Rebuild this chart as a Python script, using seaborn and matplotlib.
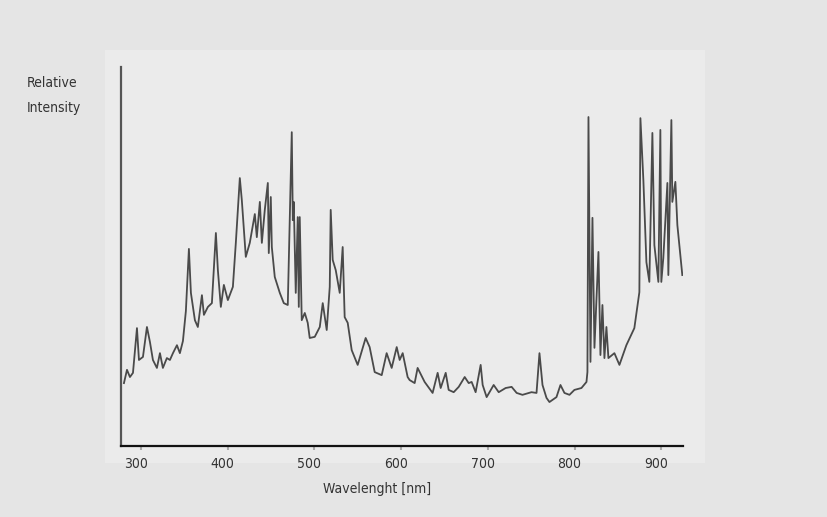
import matplotlib
matplotlib.use('Agg')
import matplotlib.pyplot as plt
import matplotlib.transforms as mtransforms
from matplotlib.patches import Rectangle
import seaborn as sns
import pandas as pd

# spectrum: wavelength [nm] and relative intensity [0-100]
wavelength = [280.4, 283.9, 287.3, 290.8, 295.4, 297.7, 302.3, 306.9, 310.4, 313.8,
              318.4, 321.9, 325.3, 329.9, 333.4, 336.9, 341.5, 344.9, 348.4, 351.8,
              355.3, 357.6, 362.2, 365.6, 370.3, 372.6, 377.2, 381.8, 386.4, 388.7,
              392.1, 395.6, 400.2, 406.0, 409.4, 414.0, 416.3, 420.9, 425.5, 431.3,
              433.6, 437.1, 439.4, 442.8, 446.3, 447.4, 449.7, 450.9, 454.3, 460.1,
              464.7, 469.3, 473.9, 475.1, 476.2, 478.5, 480.8, 482.0, 483.1, 485.4,
              488.9, 492.3, 494.6, 500.4, 506.2,
              509.6, 514.2, 517.7, 518.8, 521.1, 524.6, 529.2, 532.6, 534.9, 538.4,
              543.0, 549.9, 559.1, 563.7, 569.5, 577.6, 583.3, 589.1, 594.9, 598.3,
              601.8, 607.5, 609.8, 615.6, 619.0, 627.1, 636.3, 642.1, 645.6, 651.4,
              654.8, 660.6, 666.4, 673.3, 677.9, 681.3, 685.9, 691.7, 694.0, 698.6,
              706.7, 712.5, 720.5, 727.4, 733.2, 739.9, 750.3, 756.1, 759.5, 763.0,
              767.6, 771.0, 779.1, 783.7, 788.3, 794.1, 799.8, 807.9, 813.7, 814.8,
              816.0, 818.3, 820.6, 822.9, 827.5, 829.8, 832.1, 834.4, 836.7, 839.0,
              845.9, 851.7, 859.7, 868.9, 874.7, 875.9, 879.3, 882.8, 886.2, 889.7,
              892.0, 896.6, 898.9, 900.0, 902.3, 907.0, 908.1, 911.6, 912.7, 916.2,
              918.5, 924.2]
intensity = [16.6, 20.1, 18.2, 19.3, 31.1, 22.7, 23.5, 31.4, 27.4, 22.7,
             20.6, 24.5, 20.6, 23.2, 22.7, 24.5, 26.6, 24.5, 27.7, 35.6,
             52.0, 40.4, 33.2, 31.4, 39.8, 34.6, 36.7, 37.7, 56.2, 46.4,
             36.7, 42.5, 38.5, 42.0, 53.6, 70.7, 64.9, 49.9, 53.6, 61.2,
             55.1, 64.4, 53.6, 62.3, 69.4, 50.9, 65.7, 52.5, 44.6, 40.4,
             37.7, 37.2, 82.8, 59.6, 64.4, 40.4, 60.4, 36.7, 60.4, 33.2,
             35.1, 32.5, 28.5, 28.8, 31.4,
             37.7, 30.6, 42.0, 62.3, 49.1, 46.4, 40.4, 52.5, 34.0, 32.5,
             25.3, 21.4, 28.5, 26.1, 19.5, 18.7, 24.5, 20.6, 26.1, 22.7,
             24.5, 18.2, 17.4, 16.6, 20.6, 16.9, 14.0, 19.3, 15.3, 19.3,
             14.8, 14.2, 15.6, 18.2, 16.6, 16.9, 14.2, 21.4, 16.1, 12.9,
             16.1, 14.2, 15.3, 15.6, 14.0, 13.5, 14.2, 14.0, 24.5, 16.1,
             12.7, 11.6, 12.9, 16.1, 14.0, 13.5, 14.8, 15.3, 16.9, 19.5,
             86.8, 22.2, 60.2, 25.9, 51.2, 24.0, 37.2, 23.2, 31.4, 23.2,
             24.5, 21.4, 26.6, 31.1, 40.6, 86.5, 70.2, 48.5, 43.3, 82.6,
             53.0, 43.3, 83.4, 43.3, 49.6, 69.4, 45.1, 86.0, 64.4, 69.7,
             58.3, 45.1]
xticks = [300, 400, 500, 600, 700, 800, 900]

df = pd.DataFrame({'wavelength': wavelength, 'intensity': intensity})

plt.rcParams['font.family'] = ['DejaVu Sans']
plt.rcParams['font.stretch'] = 'condensed'

fig = plt.figure(figsize=(8.28, 5.17), dpi=100)
fig.patch.set_facecolor('#e5e5e5')
# lighter panel behind the plot
fig.patches.append(Rectangle((105 / 828, 1 - 463 / 517), 600 / 828, 413 / 517,
                             transform=fig.transFigure, facecolor='#ebebeb',
                             edgecolor='none', zorder=-5))

ax = fig.add_axes([121 / 828, 1 - 446 / 517, 562 / 828, 379 / 517])
ax.set_zorder(2)
ax.set_facecolor('none')
sns.lineplot(data=df, x='wavelength', y='intensity', ax=ax, color='#4a4a4a',
             linewidth=1.3, sort=False, estimator=None)

ax.set_xlim(277, 925)
ax.set_ylim(0, 100)
ax.set_xticks(xticks)
ax.set_xticklabels([str(t) for t in xticks])
ax.set_yticks([])
ax.set_xlabel('')
ax.set_ylabel('')

for s in ['top', 'right']:
    ax.spines[s].set_visible(False)
ax.spines['left'].set_color('#555555')
ax.spines['left'].set_linewidth(1.6)
ax.spines['bottom'].set_color('#111111')
ax.spines['bottom'].set_linewidth(1.6)
ax.tick_params(axis='x', direction='out', length=3, width=1.5, color='#aaaaaa',
               pad=5, labelsize=10, labelcolor='#333333')

offset = mtransforms.ScaledTranslation(-5 / 100, 0, fig.dpi_scale_trans)
for lab in ax.get_xticklabels():
    lab.set_transform(lab.get_transform() + offset)

fig.text(27 / 828, 1 - 83 / 517, 'Relative', fontsize=10, color='#333333',
         va='center', ha='left')
fig.text(27 / 828, 1 - 108 / 517, 'Intensity', fontsize=10, color='#333333',
         va='center', ha='left')
fig.text(377 / 828, 1 - 489 / 517, 'Wavelenght [nm]', fontsize=10,
         color='#333333', va='center', ha='center')

fig.savefig('out.png', dpi=100, facecolor=fig.get_facecolor())
